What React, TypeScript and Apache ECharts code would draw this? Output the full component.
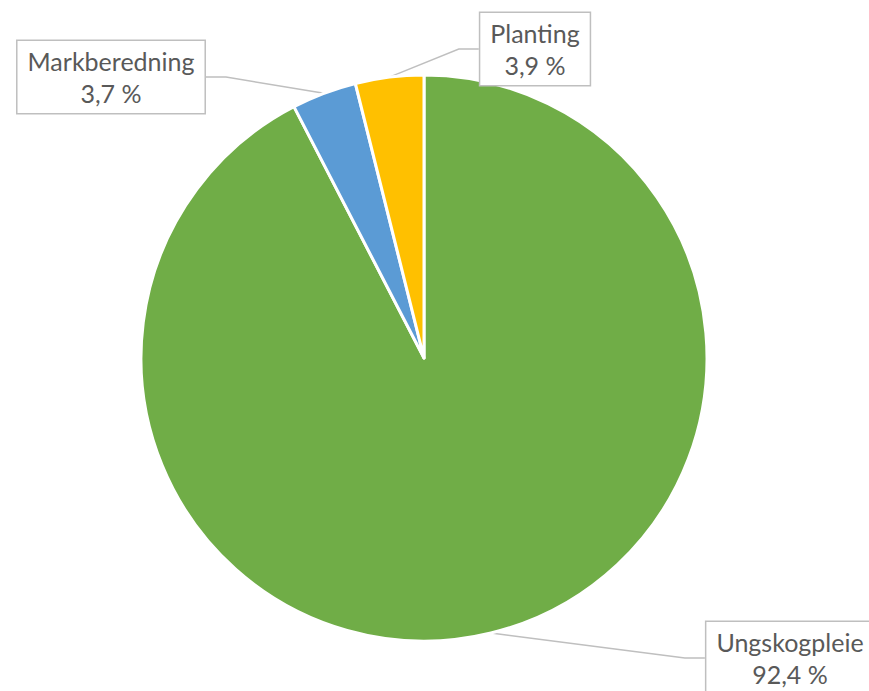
import React, { useEffect, useRef } from "react";
import * as echarts from "echarts";

const categories = ["Ungskogpleie", "Markberedning", "Planting"];
const values = [92.4, 3.7, 3.9];
const colors = ["#70AD47", "#5B9BD5", "#FFC000"];
const labelCenters: [number, number][] = [
  [790, 658],
  [111, 77],
  [535, 49],
];

export default function App() {
  const ref = useRef<HTMLDivElement>(null);
  useEffect(() => {
    if (!ref.current) return;
    const chart = echarts.init(ref.current, undefined, { renderer: "svg" });
    chart.setOption({
      animation: false,
      backgroundColor: "#ffffff",
      series: [
        {
          type: "pie",
          center: [424, 358],
          radius: [0, 283],
          startAngle: 90,
          clockwise: true,
          avoidLabelOverlap: false,
          itemStyle: { borderColor: "#ffffff", borderWidth: 3 },
          data: categories.map((name, i) => ({
            name,
            value: values[i],
            itemStyle: { color: colors[i] },
          })),
          label: {
            show: true,
            position: "outside",
            formatter: (p: any) =>
              `${p.name}\n${p.value.toFixed(1).replace(".", ",")} %`,
            fontFamily: "Lato",
            fontSize: 25,
            lineHeight: 32,
            color: "#595959",
            align: "center",
            backgroundColor: "#ffffff",
            borderColor: "#BFBFBF",
            borderWidth: 1.5,
            padding: [4, 10],
          },
          labelLine: {
            show: true,
            length: 20,
            length2: 20,
            lineStyle: { color: "#BFBFBF", width: 1.5 },
          },
          labelLayout: (params: any) => {
            const c = labelCenters[params.dataIndex];
            return { x: c[0], y: c[1], align: "center", verticalAlign: "middle" };
          },
        },
      ],
    });
    return () => chart.dispose();
  }, []);
  return (
    <div
      ref={ref}
      style={{ position: "absolute", left: 0, top: 0, width: 869, height: 691 }}
    />
  );
}
